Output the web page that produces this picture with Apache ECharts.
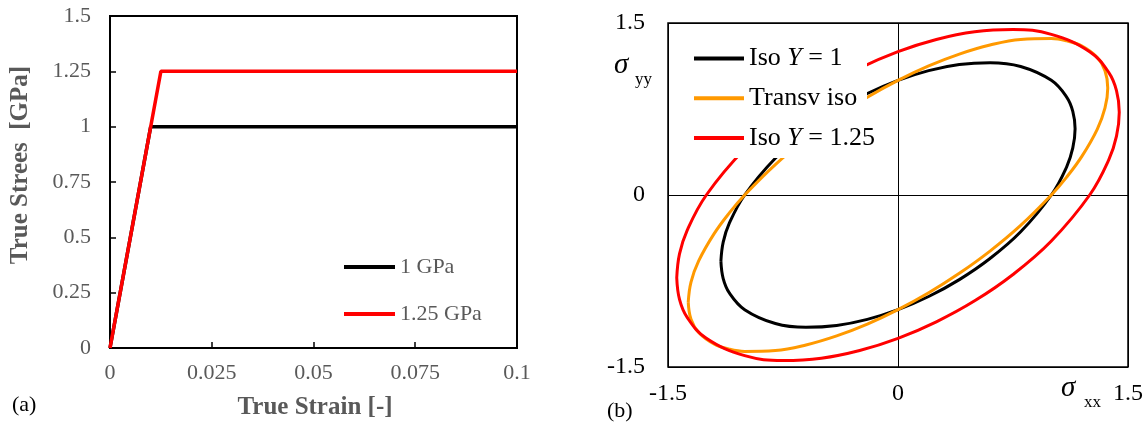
<!DOCTYPE html>
<html>
<head>
<meta charset="utf-8">
<script src="https://cdn.jsdelivr.net/npm/echarts@6/dist/echarts.min.js"></script>
<style>html,body{margin:0;padding:0;background:#fff}#c{width:1146px;height:429px}</style>
</head>
<body>
<div id="c"></div>
<script>
// ---- Panel (a): true stress vs true strain ----
const strainA = [0, 0.01, 0.1];
const stressA = [0, 1, 1];
const strainB = [0, 0.0125, 0.1];
const stressB = [0, 1.25, 1.25];
const namesA = ['1 GPa', '1.25 GPa'];

// ---- Panel (b): yield surfaces (sigma_xx, sigma_yy) ----
const isoY1 = [
  [-1.155,-0.577],[-1.14,-0.411],[-1.1,-0.246],[-1.0,0],[-0.8,0.321],[-0.6,0.554],[-0.4,0.738],[-0.2,0.885],
  [0,1],[0.2,1.085],[0.4,1.138],[0.6,1.154],[0.8,1.121],[1.0,1],[1.1,0.854],[1.14,0.729],[1.155,0.577],
  [1.14,0.411],[1.1,0.246],[1.0,0],[0.8,-0.321],[0.6,-0.554],[0.4,-0.738],[0.2,-0.885],
  [0,-1],[-0.2,-1.085],[-0.4,-1.138],[-0.6,-1.154],[-0.8,-1.121],[-1.0,-1],[-1.1,-0.854],[-1.14,-0.729],[-1.155,-0.577]
];
const transvIso = [
  [-1.368,-0.934],[-1.35,-0.759],[-1.3,-0.575],[-1.2,-0.339],[-1.1,-0.156],[-1.0,0],[-0.8,0.265],[-0.6,0.489],
  [-0.4,0.683],[-0.2,0.853],[0,1],[0.2,1.126],[0.4,1.229],[0.6,1.308],[0.8,1.357],[1.0,1.365],[1.1,1.345],
  [1.2,1.299],[1.3,1.199],[1.35,1.084],[1.368,0.934],[1.35,0.759],[1.3,0.575],[1.2,0.339],[1.1,0.156],
  [1.0,0],[0.8,-0.265],[0.6,-0.489],[0.4,-0.683],[0.2,-0.853],[0,-1],[-0.2,-1.126],[-0.4,-1.229],
  [-0.6,-1.308],[-0.8,-1.357],[-1.0,-1.365],[-1.1,-1.345],[-1.2,-1.299],[-1.3,-1.199],[-1.35,-1.084],[-1.368,-0.934]
];
const isoY125 = [
  [-1.443,-0.722],[-1.425,-0.514],[-1.375,-0.308],[-1.25,0],[-1.0,0.401],[-0.75,0.693],[-0.5,0.923],[-0.25,1.106],
  [0,1.25],[0.25,1.356],[0.5,1.423],[0.75,1.443],[1.0,1.401],[1.25,1.25],[1.375,1.068],[1.425,0.911],[1.443,0.722],
  [1.425,0.514],[1.375,0.308],[1.25,0],[1.0,-0.401],[0.75,-0.693],[0.5,-0.923],[0.25,-1.106],
  [0,-1.25],[-0.25,-1.356],[-0.5,-1.423],[-0.75,-1.443],[-1.0,-1.401],[-1.25,-1.25],[-1.375,-1.068],[-1.425,-0.911],[-1.443,-0.722]
];
const namesB = ['Iso Y = 1', 'Transv iso', 'Iso Y = 1.25'];

const serif = 'Liberation Serif';
const gray = '#595959';

const chart = echarts.init(document.getElementById('c'), null, {renderer: 'canvas'});
chart.setOption({
  animation: false,
  backgroundColor: '#fff',
  grid: [
    {left: 110, top: 16, width: 407, height: 332, show: true, borderColor: '#000', borderWidth: 2, backgroundColor: 'transparent'},
    {left: 668, top: 23, width: 462, height: 344, show: true, borderColor: '#000', borderWidth: 1.5, backgroundColor: 'transparent'}
  ],
  xAxis: [
    {gridIndex: 0, type: 'value', min: 0, max: 0.1, interval: 0.025,
     axisLine: {show: true, lineStyle: {color: '#000', width: 2}},
     axisTick: {show: true, inside: true, length: 6, lineStyle: {color: '#000', width: 1.5}},
     splitLine: {show: false},
     axisLabel: {color: gray, fontFamily: serif, fontSize: 22, margin: 14}},
    {gridIndex: 1, type: 'value', min: -1.5, max: 1.5, interval: 1.5,
     axisLine: {show: false}, axisTick: {show: false},
     splitLine: {show: true, lineStyle: {color: '#000', width: 1}},
     axisLabel: {color: '#000', fontFamily: serif, fontSize: 24, margin: 15}}
  ],
  yAxis: [
    {gridIndex: 0, type: 'value', min: 0, max: 1.5, interval: 0.25,
     axisLine: {show: true, lineStyle: {color: '#000', width: 2}},
     axisTick: {show: true, inside: true, length: 6, lineStyle: {color: '#000', width: 1.5}},
     splitLine: {show: false},
     axisLabel: {color: gray, fontFamily: serif, fontSize: 22, margin: 19}},
    {gridIndex: 1, type: 'value', min: -1.5, max: 1.5, interval: 1.5,
     axisLine: {show: false}, axisTick: {show: false},
     splitLine: {show: true, lineStyle: {color: '#000', width: 1}},
     axisLabel: {color: '#000', fontFamily: serif, fontSize: 24, margin: 23}}
  ],
  legend: [
    {data: namesA, orient: 'vertical', left: 344, top: 256, padding: 0, itemWidth: 51, itemHeight: 4, itemGap: 25,
     icon: 'rect', textStyle: {color: gray, fontFamily: serif, fontSize: 22, lineHeight: 22}},
    {data: namesB, orient: 'vertical', left: 694, top: 45.5, padding: 0, itemWidth: 50, itemHeight: 4, itemGap: 13.7,
     icon: 'rect', zlevel: 2, z: 10,
     formatter: function (name) {
       if (name.indexOf('Iso') === 0) {
         return '{n|Iso }{i|Y}{n|' + name.slice(5) + '}';
       }
       return '{n|' + name + '}';
     },
     textStyle: {color: '#000', fontFamily: serif, fontSize: 26, lineHeight: 26,
       rich: {
         n: {color: '#000', fontFamily: serif, fontSize: 26, lineHeight: 26},
         i: {color: '#000', fontFamily: serif, fontSize: 26, lineHeight: 26, fontStyle: 'italic'}
       }}}
  ],
  series: [
    {name: namesA[0], type: 'line', xAxisIndex: 0, yAxisIndex: 0, symbol: 'none',
     data: strainA.map((x, i) => [x, stressA[i]]), lineStyle: {color: '#000', width: 3.5}, itemStyle: {color: '#000'}},
    {name: namesA[1], type: 'line', xAxisIndex: 0, yAxisIndex: 0, symbol: 'none',
     data: strainB.map((x, i) => [x, stressB[i]]), lineStyle: {color: '#ff0000', width: 3.5}, itemStyle: {color: '#ff0000'}},
    {name: namesB[0], type: 'line', xAxisIndex: 1, yAxisIndex: 1, symbol: 'none', smooth: 0.4,
     data: isoY1, lineStyle: {color: '#000', width: 3}, itemStyle: {color: '#000'}},
    {name: namesB[1], type: 'line', xAxisIndex: 1, yAxisIndex: 1, symbol: 'none', smooth: 0.4,
     data: transvIso, lineStyle: {color: '#ff9900', width: 3}, itemStyle: {color: '#ff9900'}},
    {name: namesB[2], type: 'line', xAxisIndex: 1, yAxisIndex: 1, symbol: 'none', smooth: 0.4,
     data: isoY125, lineStyle: {color: '#ff0000', width: 3}, itemStyle: {color: '#ff0000'}}
  ],
  graphic: [
    {type: 'rect', zlevel: 1, z: 10, shape: {x: 669, y: 24, width: 198, height: 134},
     style: {fill: '#ffffff'}},
    {type: 'text', x: 21, y: 165, rotation: Math.PI / 2,
     style: {text: 'True Strees  [GPa]', fill: gray, font: 'bold 25px "Liberation Serif"', align: 'center', verticalAlign: 'middle'}},
    {type: 'text', x: 315, y: 408,
     style: {text: 'True Strain [-]', fill: gray, font: 'bold 25px "Liberation Serif"', align: 'center', verticalAlign: 'middle'}},
    {type: 'text', x: 12, y: 405,
     style: {text: '(a)', fill: '#000', font: '22px "Liberation Serif"', align: 'left', verticalAlign: 'middle'}},
    {type: 'text', x: 607, y: 411,
     style: {text: '(b)', fill: '#000', font: '22px "Liberation Serif"', align: 'left', verticalAlign: 'middle'}},
    {type: 'text', x: 614, y: 65,
     style: {text: 'σ', fill: '#000', font: 'italic 29px "Liberation Serif"', align: 'left', verticalAlign: 'middle'}},
    {type: 'text', x: 635, y: 80,
     style: {text: 'yy', fill: '#000', font: '17px "Liberation Serif"', align: 'left', verticalAlign: 'middle'}},
    {type: 'text', x: 1061, y: 388,
     style: {text: 'σ', fill: '#000', font: 'italic 29px "Liberation Serif"', align: 'left', verticalAlign: 'middle'}},
    {type: 'text', x: 1084, y: 403,
     style: {text: 'xx', fill: '#000', font: '17px "Liberation Serif"', align: 'left', verticalAlign: 'middle'}}
  ]
});
</script>
</body>
</html>
